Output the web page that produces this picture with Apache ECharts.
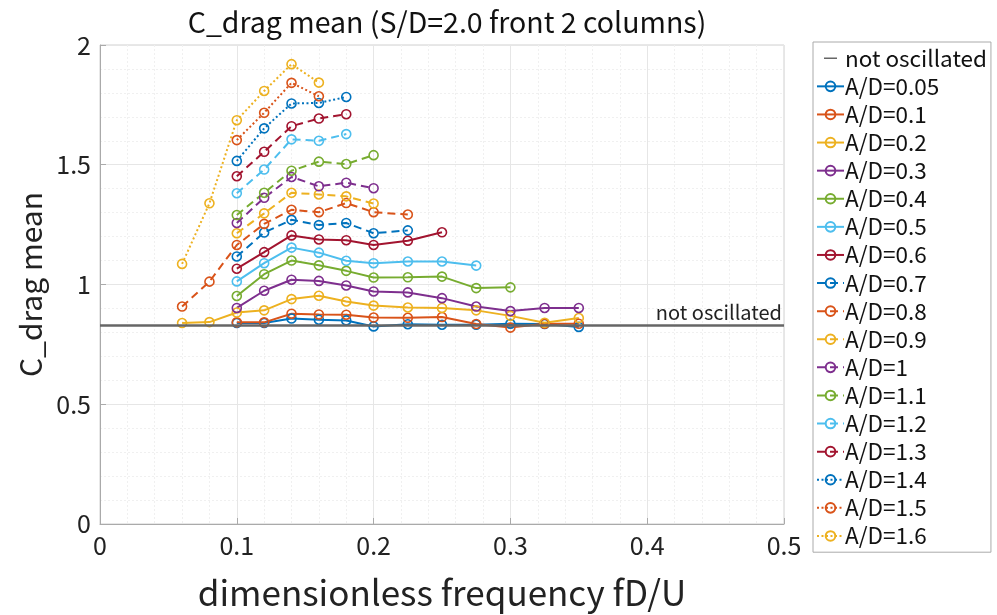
<!DOCTYPE html>
<html>
<head>
<meta charset="utf-8">
<script src="https://cdn.jsdelivr.net/npm/echarts@6/dist/echarts.min.js"></script>
<style>
  html, body { margin: 0; padding: 0; background: #fff; }
  #chart { width: 997px; height: 615px; }
</style>
</head>
<body>
<div id="chart"></div>
<script>
// frequencies fD/U used by the runs
var freqAll = [0.06, 0.08, 0.1, 0.12, 0.14, 0.16, 0.18, 0.2, 0.225, 0.25, 0.275, 0.3, 0.325, 0.35];
var freqFrom01 = freqAll.slice(2);

var notOscillated = 0.835;

// C_drag mean, one array per amplitude A/D
var ad005 = [0.839, 0.839, 0.858, 0.853, 0.850, 0.825, 0.834, 0.832, 0.832, 0.836, 0.835, 0.823];
var ad01  = [0.842, 0.842, 0.878, 0.875, 0.874, 0.862, 0.861, 0.864, 0.835, 0.820, 0.836, 0.836];
var ad02  = [0.839, 0.843, 0.883, 0.892, 0.939, 0.953, 0.929, 0.912, 0.904, 0.902, 0.892, 0.869, 0.840, 0.860];
var ad03  = [0.902, 0.974, 1.020, 1.015, 0.996, 0.971, 0.967, 0.943, 0.908, 0.889, 0.902, 0.902];
var ad04  = [0.952, 1.043, 1.100, 1.080, 1.057, 1.029, 1.030, 1.033, 0.985, 0.988];
var ad05  = [1.013, 1.089, 1.154, 1.133, 1.099, 1.089, 1.096, 1.096, 1.079];
var ad06  = [1.066, 1.135, 1.205, 1.188, 1.185, 1.165, 1.183, 1.218];
var ad07  = [1.117, 1.217, 1.270, 1.248, 1.257, 1.214, 1.226];
var ad08  = [0.908, 1.012, 1.165, 1.253, 1.312, 1.302, 1.340, 1.302, 1.292];
var ad09  = [1.214, 1.297, 1.383, 1.376, 1.368, 1.338];
var ad10  = [1.257, 1.362, 1.449, 1.410, 1.425, 1.402];
var ad11  = [1.290, 1.383, 1.475, 1.513, 1.503, 1.540];
var ad12  = [1.381, 1.480, 1.606, 1.600, 1.628];
var ad13  = [1.452, 1.554, 1.661, 1.693, 1.711];
var ad14  = [1.516, 1.652, 1.756, 1.758, 1.783];
var ad15  = [1.603, 1.717, 1.842, 1.786];
var ad16  = [1.086, 1.339, 1.686, 1.808, 1.920, 1.843];

var xTicks = [0, 0.1, 0.2, 0.3, 0.4, 0.5];
var yTicks = [0, 0.5, 1, 1.5, 2];

var colors = ['#0072BD', '#D95319', '#EDB120', '#7E2F8E', '#77AC30', '#4DBEEE', '#A2142F'];
var font = '"Noto Sans CJK JP", "Noto Sans", sans-serif';

// name, values, starts at 0.06?, line type
var runs = [
    ['A/D=0.05', ad005, false, 'solid'],
    ['A/D=0.1',  ad01,  false, 'solid'],
    ['A/D=0.2',  ad02,  true,  'solid'],
    ['A/D=0.3',  ad03,  false, 'solid'],
    ['A/D=0.4',  ad04,  false, 'solid'],
    ['A/D=0.5',  ad05,  false, 'solid'],
    ['A/D=0.6',  ad06,  false, 'solid'],
    ['A/D=0.7',  ad07,  false, 'dashed'],
    ['A/D=0.8',  ad08,  true,  'dashed'],
    ['A/D=0.9',  ad09,  false, 'dashed'],
    ['A/D=1',    ad10,  false, 'dashed'],
    ['A/D=1.1',  ad11,  false, 'dashed'],
    ['A/D=1.2',  ad12,  false, 'dashed'],
    ['A/D=1.3',  ad13,  false, 'dashed'],
    ['A/D=1.4',  ad14,  false, 'dotted'],
    ['A/D=1.5',  ad15,  false, 'dotted'],
    ['A/D=1.6',  ad16,  true,  'dotted']
];

var dashes = { solid: 'solid', dashed: [8, 5], dotted: [2, 2.5] };

var series = [{
    name: 'not oscillated',
    type: 'line',
    symbol: 'none',
    data: [[0, notOscillated], [0.5, notOscillated]],
    lineStyle: { color: '#666', width: 2.5, opacity: 0 },
    itemStyle: { color: '#666' },
    markLine: {
        silent: true,
        symbol: 'none',
        lineStyle: { color: '#666', width: 2.5, type: 'solid' },
        label: {
            show: true,
            position: 'insideEndTop',
            distance: [2, 3],
            color: '#222',
            fontSize: 20,
            fontFamily: font,
            formatter: 'not oscillated'
        },
        data: [{ yAxis: notOscillated }]
    },
    z: 1
}];

var legendData = [{
    name: 'not oscillated',
    icon: 'path://M0,0 L0.01,0 L0,0.01 Z M0,10.5 L26,10.5 L26,13.5 L0,13.5 Z M26,24 L25.99,24 L26,23.99 Z',
    itemStyle: { color: '#666' }
}];

runs.forEach(function (r, i) {
    var c = colors[i % colors.length];
    var xs = r[2] ? freqAll : freqFrom01;
    series.push({
        name: r[0],
        type: 'line',
        symbol: 'circle',
        symbolSize: 9,
        data: r[1].map(function (v, k) { return [xs[k], v]; }),
        lineStyle: { color: c, width: 2, type: dashes[r[3]] },
        itemStyle: { color: 'rgba(255,255,255,0)', borderColor: c, borderWidth: 1.6 },
        z: 2
    });
    legendData.push(r[0]);
});

var chart = echarts.init(document.getElementById('chart'));
chart.setOption({
    animation: false,
    color: colors,
    title: {
        text: 'C_drag mean (S/D=2.0 front 2 columns)',
        left: 442,
        textAlign: 'center',
        top: 3,
        textStyle: { fontFamily: font, fontSize: 28.5, fontWeight: 'normal', color: '#111' }
    },
    grid: { left: 100, right: 213, top: 45, bottom: 90, show: true, borderColor: '#d0d0d0', borderWidth: 1 },
    legend: {
        orient: 'vertical',
        left: 813,
        top: 42,
        padding: [5, 4, 5, 3],
        itemWidth: 27,
        itemHeight: 12,
        itemGap: 5.6,
        borderColor: '#aaa',
        borderWidth: 1,
        backgroundColor: '#fff',
        textStyle: { fontFamily: font, fontSize: 22.5, color: '#111', lineHeight: 22, padding: [0, 0, 0, -4] },
        data: legendData
    },
    xAxis: {
        type: 'value',
        min: xTicks[0],
        max: xTicks[xTicks.length - 1],
        interval: 0.1,
        name: 'dimensionless frequency fD/U',
        nameLocation: 'middle',
        nameGap: 51,
        nameTextStyle: { fontFamily: font, fontSize: 35, color: '#222' },
        axisLine: { show: true, lineStyle: { color: '#aaa', width: 1 } },
        axisTick: { show: true, inside: true, length: 6, lineStyle: { color: '#aaa' } },
        axisLabel: { fontFamily: font, fontSize: 25, color: '#222', margin: 9 },
        splitLine: { show: true, lineStyle: { color: '#e6e6e6', width: 1 } },
        minorTick: { show: false, splitNumber: 5 },
        minorSplitLine: { show: true, lineStyle: { color: '#f0f0f0', width: 1, type: [2, 2] } }
    },
    yAxis: {
        type: 'value',
        min: yTicks[0],
        max: yTicks[yTicks.length - 1],
        interval: 0.5,
        name: 'C_drag mean',
        nameLocation: 'middle',
        nameGap: 46,
        nameTextStyle: { fontFamily: font, fontSize: 30, color: '#222' },
        axisLine: { show: true, lineStyle: { color: '#aaa', width: 1 } },
        axisTick: { show: true, inside: true, length: 6, lineStyle: { color: '#aaa' } },
        axisLabel: { fontFamily: font, fontSize: 25, color: '#222', margin: 9 },
        splitLine: { show: true, lineStyle: { color: '#e6e6e6', width: 1 } },
        minorTick: { show: false, splitNumber: 5 },
        minorSplitLine: { show: true, lineStyle: { color: '#f0f0f0', width: 1, type: [2, 2] } }
    },
    series: series
});
window.addEventListener('resize', chart.resize);
</script>
</body>
</html>
